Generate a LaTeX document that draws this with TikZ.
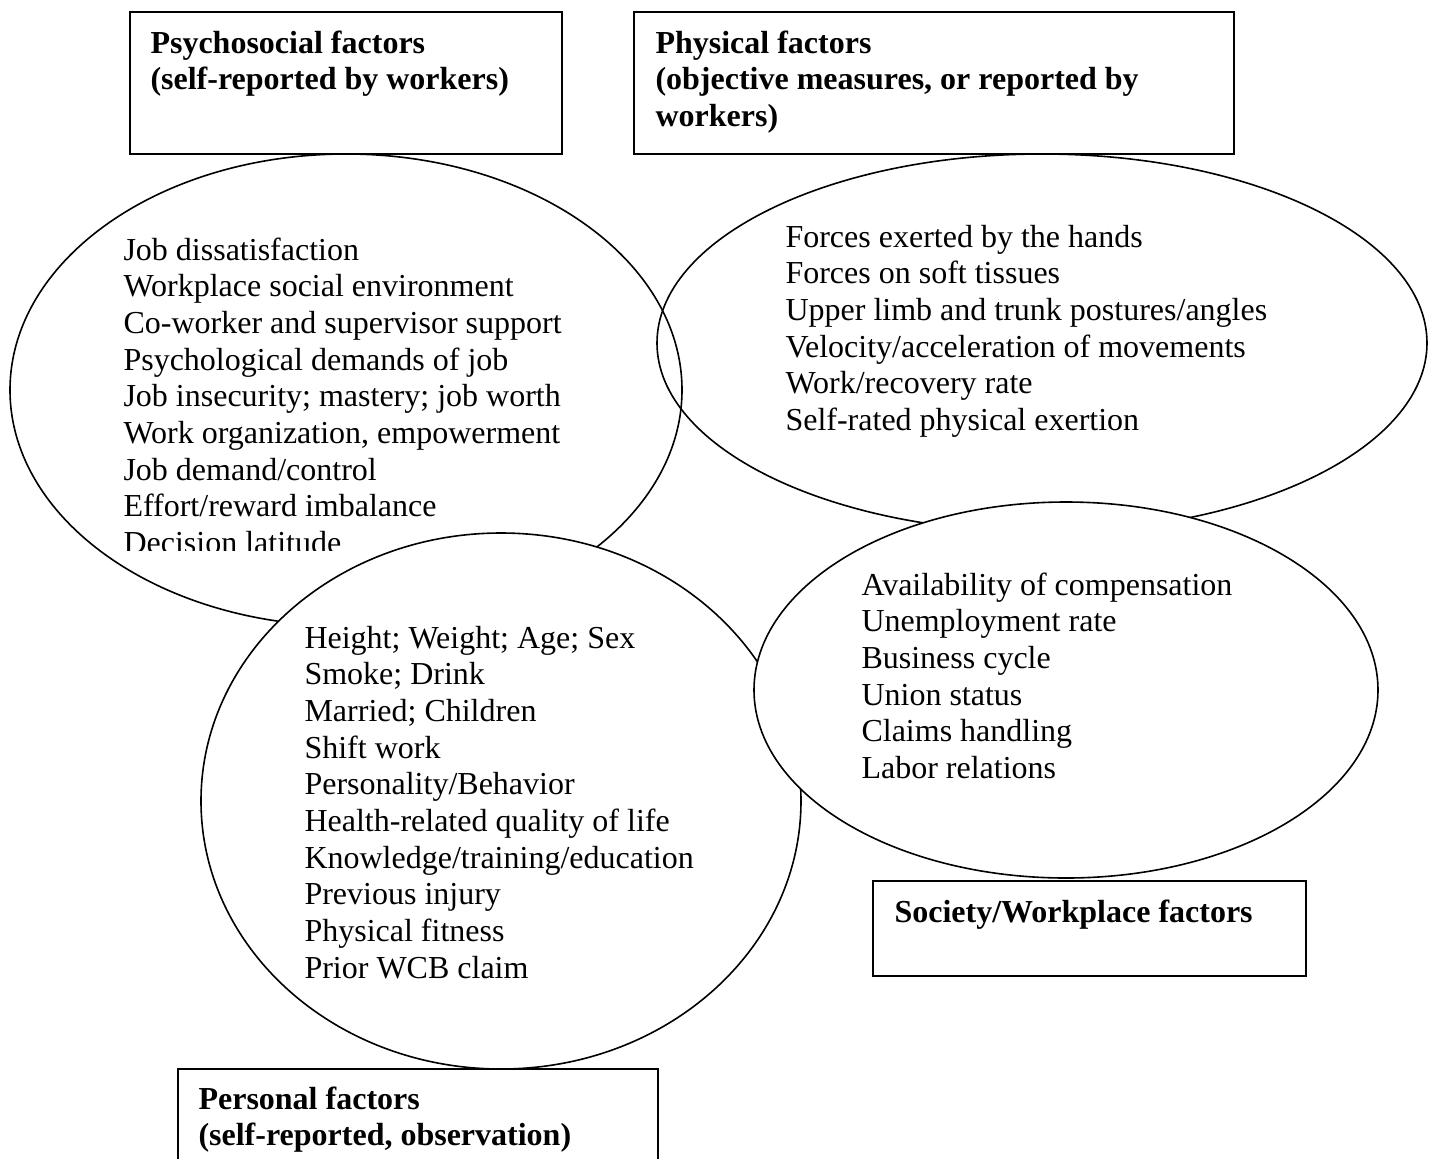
\documentclass[tikz,border=0pt]{standalone}
\usepackage{fontspec}
\setmainfont{Liberation Serif}
\usetikzlibrary{shapes.geometric}
\newcommand{\myu}{0.375pt}
\newcommand{\listlines}[1]{\begin{tabular}[t]{@{}l@{}}#1\end{tabular}}
\tikzset{
  oval/.style={ellipse, draw, line width=0.6pt, inner sep=0pt, outer sep=0pt},
  framebox/.style={rectangle, draw, line width=0.75pt, inner sep=0pt, outer sep=0pt},
  listtext/.style={anchor=base west, inner sep=0pt, font=\fontsize{12pt}{13.76pt}\selectfont},
  headtext/.style={anchor=base west, inner sep=0pt, font=\fontsize{12pt}{13.76pt}\selectfont\bfseries}
}
\begin{document}
\begin{tikzpicture}[x=\myu, y=-\myu]
\useasboundingbox (0,0) rectangle (1433,1158);
\clip (0,0) rectangle (1433,1158);
\fill[white] (0,0) rectangle (1433,1158);

% psychosocial and physical ellipses
\node[oval, minimum width=672*\myu, minimum height=472*\myu] (psyE) at (346,390) {};
\node[oval, minimum width=770*\myu, minimum height=378*\myu] (phyE) at (1042,343) {};

\begin{scope}
\clip (0,150) rectangle (700,550);
\node[listtext] (psyT) at (123,260) {\listlines{Job dissatisfaction\\Workplace social environment\\Co-worker and supervisor support\\Psychological demands of job\\Job insecurity; mastery; job worth\\Work organization, empowerment\\Job demand/control\\Effort/reward imbalance\\Decision latitude}};
\end{scope}

\node[listtext] (phyT) at (785,247) {\listlines{Forces exerted by the hands\\Forces on soft tissues\\Upper limb and trunk postures/angles\\Velocity/acceleration of movements\\Work/recovery rate\\Self-rated physical exertion}};

% personal ellipse
\node[oval, fill=white, minimum width=600*\myu, minimum height=536*\myu] (perE) at (501,801) {};
\node[listtext] (perT) at (304,648) {\listlines{Height; Weight; Age; Sex\\Smoke; Drink\\Married; Children\\Shift work\\Personality/Behavior\\Health-related quality of life\\Knowledge/training/education\\Previous injury\\Physical fitness\\Prior WCB claim}};

% society ellipse
\node[oval, fill=white, minimum width=624*\myu, minimum height=376*\myu] (socE) at (1066,690) {};
\node[listtext] (socT) at (861,595) {\listlines{Availability of compensation\\Unemployment rate\\Business cycle\\Union status\\Claims handling\\Labor relations}};

% heading boxes
\node[framebox, minimum width=432*\myu, minimum height=142*\myu] (psyB) at (346,83) {};
\node[headtext] (psyH) at (150,53) {\listlines{Psychosocial factors\\(self-reported by workers)}};

\node[framebox, minimum width=600*\myu, minimum height=142*\myu] (phyB) at (934,83) {};
\node[headtext] (phyH) at (655,53) {\listlines{Physical factors\\(objective measures, or reported by\\workers)}};

\node[framebox, minimum width=433*\myu, minimum height=95*\myu] (socB) at (1089.5,928.5) {};
\node[headtext] (socH) at (894,922) {Society/Workplace factors};

\node[framebox, minimum width=480*\myu, minimum height=140*\myu] (perB) at (418,1139) {};
\node[headtext] (perH) at (198,1109) {\listlines{Personal factors\\(self-reported, observation)}};
\end{tikzpicture}
\end{document}
